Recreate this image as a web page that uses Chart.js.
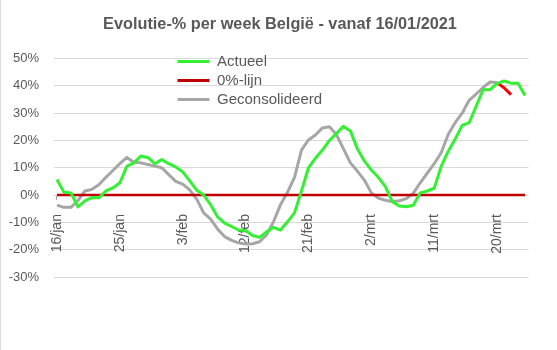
<!DOCTYPE html>
<html lang="nl">
<head>
<meta charset="utf-8">
<title>Evolutie-% per week België</title>
<script src="https://cdn.jsdelivr.net/npm/chart.js@4.4.1/dist/chart.umd.min.js"></script>
<style>
  html, body { margin: 0; padding: 0; background: #fff; }
  #kader { position: relative; width: 557px; height: 350px; }
  #rand { position: absolute; left: 0; top: 0; width: 1px; height: 350px; background: #d9d9d9; }
  canvas { display: block; }
</style>
</head>
<body>
<div id="kader">
  <canvas id="evolutieChart" width="557" height="350"></canvas>
  <div id="rand"></div>
</div>
<script>
// dagen (categorie-as), 16/jan t/m 24/mrt
const dagen = [
  '16/jan', '17/jan', '18/jan', '19/jan', '20/jan', '21/jan', '22/jan', '23/jan', '24/jan', '25/jan',
  '26/jan', '27/jan', '28/jan', '29/jan', '30/jan', '31/jan',
  '1/feb', '2/feb', '3/feb', '4/feb', '5/feb', '6/feb', '7/feb', '8/feb', '9/feb', '10/feb',
  '11/feb', '12/feb', '13/feb', '14/feb', '15/feb', '16/feb', '17/feb', '18/feb', '19/feb', '20/feb',
  '21/feb', '22/feb', '23/feb', '24/feb', '25/feb', '26/feb', '27/feb', '28/feb',
  '1/mrt', '2/mrt', '3/mrt', '4/mrt', '5/mrt', '6/mrt', '7/mrt', '8/mrt', '9/mrt', '10/mrt',
  '11/mrt', '12/mrt', '13/mrt', '14/mrt', '15/mrt', '16/mrt', '17/mrt', '18/mrt', '19/mrt', '20/mrt',
  '21/mrt', '22/mrt', '23/mrt', '24/mrt'
];

// Actueel (%)
const actueel = [
  5.7, 1.0, 0.8, -4.3, -2.1, -0.9, -1.0, 1.5, 2.6, 4.5,
  10.5, 11.8, 14.3, 13.8, 11.5, 13.0, 11.5, 10.3, 8.5, 5.2,
  1.8, 0.0, -3.5, -8.0, -10.3, -11.5, -12.8, -13.0, -14.8, -15.5,
  -13.5, -11.8, -12.8, -9.8, -6.5, 1.5, 10.0, 13.5, 16.5, 20.0,
  22.5, 25.2, 23.5, 17.0, 12.5, 9.2, 6.5, 3.2, -2.4, -4.0,
  -4.3, -3.7, 0.8, 1.5, 2.5, 10.5, 16.0, 20.5, 25.5, 26.5,
  32.5, 38.6, 38.6, 40.8, 41.8, 41.0, 41.0, 36.5
];

// 0%-lijn
const nulLijn = [
  0, 0, 0, 0, 0, 0, 0, 0, 0, 0,
  0, 0, 0, 0, 0, 0, 0, 0, 0, 0,
  0, 0, 0, 0, 0, 0, 0, 0, 0, 0,
  0, 0, 0, 0, 0, 0, 0, 0, 0, 0,
  0, 0, 0, 0, 0, 0, 0, 0, 0, 0,
  0, 0, 0, 0, 0, 0, 0, 0, 0, 0,
  0, 0, 0, 0, 0, 0, 0, 0
];

// Geconsolideerd (%)
const geconsolideerd = [
  -3.7, -4.5, -4.5, -2.0, 1.5, 2.1, 3.8, 6.5, 9.0, 11.5,
  13.8, 12.0, 11.8, 11.2, 10.6, 10.0, 7.5, 5.0, 4.0, 1.9,
  -1.5, -6.5, -8.8, -12.5, -15.2, -16.6, -17.5, -17.9, -17.8, -17.1,
  -14.6, -9.7, -3.5, 1.0, 6.5, 16.5, 20.2, 22.0, 24.6, 25.0,
  22.2, 17.0, 11.8, 8.8, 5.5, 0.8, -1.1, -1.9, -2.4, -2.1,
  -1.3, 0.6, 4.5, 8.0, 11.5, 15.5, 22.2, 26.5, 30.0, 34.7,
  37.0, 39.4, 41.4, 41.2, null, null, null, null
];

// laatste (voorlopige) stukje in rood, niet in de legende
const voorlopig = [
  null, null, null, null, null, null, null, null, null, null,
  null, null, null, null, null, null, null, null, null, null,
  null, null, null, null, null, null, null, null, null, null,
  null, null, null, null, null, null, null, null, null, null,
  null, null, null, null, null, null, null, null, null, null,
  null, null, null, null, null, null, null, null, null, null,
  null, null, null, 41.2, 39.3, 36.8, null, null
];

const yTicks = [-30, -20, -10, 0, 10, 20, 30, 40, 50];

const tekstKleur = '#595959';
Chart.defaults.font.family = "'Liberation Sans', Arial, sans-serif";
Chart.defaults.color = tekstKleur;

// legende binnen de grafiek en titel over de volle breedte (zoals in Excel)
const excelPlaatsing = {
  id: 'excelPlaatsing',
  afterLayout(chart) {
    const area = chart.chartArea;
    chart.legend.left = area.left + 120;
    chart.legend.top = area.top - 8.5;
    chart.titleBlock.left = 3.5;
    chart.titleBlock.right = chart.width - 0.5;
  }
};

const ctx = document.getElementById('evolutieChart').getContext('2d');
new Chart(ctx, {
  type: 'line',
  data: {
    labels: dagen,
    datasets: [
      {
        label: 'Actueel',
        data: actueel,
        borderColor: '#33f033',
        backgroundColor: '#33f033',
        borderWidth: 3,
        pointRadius: 0,
        borderJoinStyle: 'round',
        tension: 0
      },
      {
        label: '0%-lijn',
        data: nulLijn,
        borderColor: '#c00000',
        backgroundColor: '#c00000',
        borderWidth: 2.5,
        pointRadius: 0,
        tension: 0
      },
      {
        label: 'Geconsolideerd',
        data: geconsolideerd,
        borderColor: '#a6a6a6',
        backgroundColor: '#a6a6a6',
        borderWidth: 3,
        pointRadius: 0,
        borderJoinStyle: 'round',
        tension: 0
      },
      {
        label: 'Voorlopig',
        data: voorlopig,
        borderColor: '#ff0000',
        backgroundColor: '#ff0000',
        borderWidth: 3,
        pointRadius: 0,
        tension: 0
      }
    ]
  },
  options: {
    responsive: false,
    animation: false,
    layout: {
      padding: { left: 8.7, right: 28.5, top: 0, bottom: 73 }
    },
    plugins: {
      title: {
        display: true,
        text: 'Evolutie-% per week België - vanaf 16/01/2021',
        color: tekstKleur,
        font: { size: 16.3, weight: 'bold' },
        padding: { top: 15, bottom: 24 }
      },
      legend: {
        position: 'chartArea',
        align: 'start',
        labels: {
          color: tekstKleur,
          font: { size: 15 },
          boxWidth: 32,
          boxHeight: 3,
          padding: 4,
          generateLabels: (chart) =>
            Chart.defaults.plugins.legend.labels.generateLabels(chart)
              .filter(l => l.datasetIndex < 3)
              .map(l => ({ ...l, fillStyle: l.strokeStyle, lineWidth: 0 }))
        }
      },
      tooltip: { enabled: false }
    },
    scales: {
      x: {
        position: { y: 0 },
        offset: true,
        border: { display: false },
        grid: {
          drawOnChartArea: false,
          drawTicks: true,
          tickLength: 16,
          tickBorderDash: [5, 50],
          tickColor: (c) => (c.index % 9 === 0 ? '#a6a6a6' : 'rgba(0,0,0,0)')
        },
        ticks: {
          autoSkip: false,
          maxRotation: 90,
          minRotation: 90,
          color: tekstKleur,
          font: { size: 14 },
          callback: (v, i) => (i % 9 === 0 ? dagen[i] : null)
        },
        afterFit: (axis) => { axis.paddingLeft = 0; axis.paddingRight = 0; }
      },
      y: {
        min: yTicks[0],
        max: yTicks[yTicks.length - 1],
        border: { display: false },
        grid: { color: '#d9d9d9', lineWidth: 1, drawTicks: false },
        afterBuildTicks: (axis) => { axis.ticks = yTicks.map(v => ({ value: v })); },
        afterFit: (axis) => { axis.width = 44.8; },
        ticks: {
          color: tekstKleur,
          font: { size: 13 },
          padding: 14.5,
          callback: (v) => v + '%'
        }
      }
    }
  },
  plugins: [excelPlaatsing]
});
</script>
</body>
</html>
